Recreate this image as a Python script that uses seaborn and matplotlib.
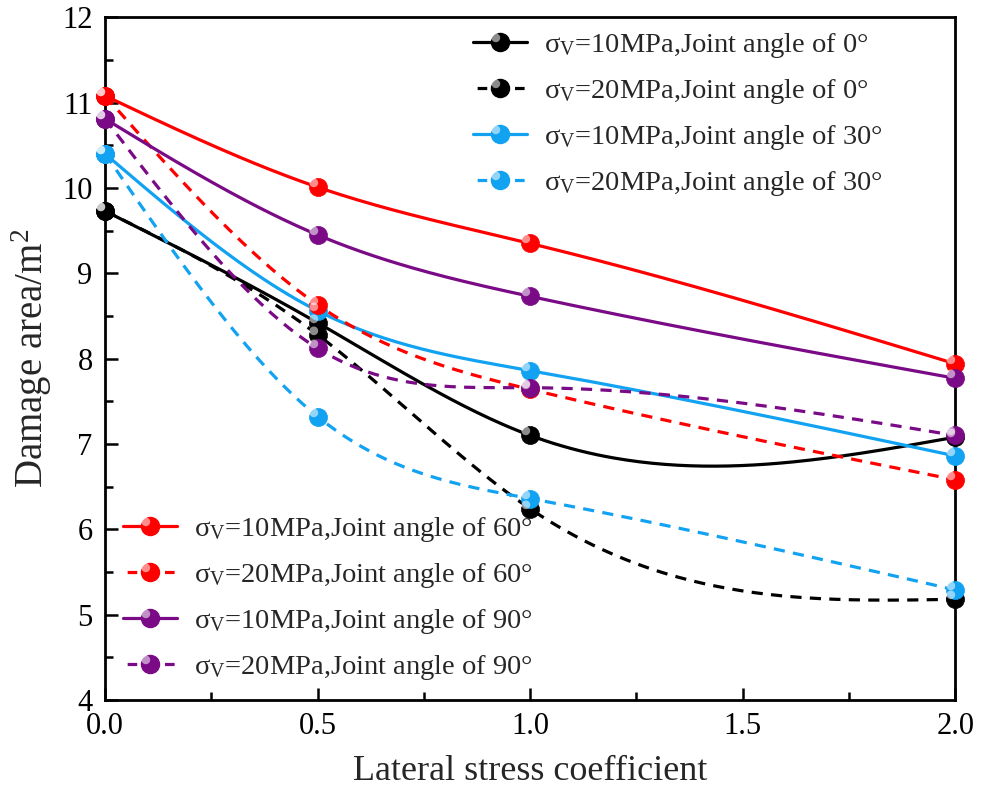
import numpy as np
import pandas as pd
import matplotlib
matplotlib.use("Agg")
import matplotlib.pyplot as plt
from matplotlib.lines import Line2D
from matplotlib.path import Path
from matplotlib.markers import MarkerStyle
from matplotlib.ticker import MultipleLocator
from matplotlib.legend_handler import HandlerTuple
import seaborn as sns

# =====================================================================
# DATA
# =====================================================================
lateral_coef = [0.0, 0.5, 1.0, 2.0]

area_10_0 = [9.73, 8.42, 7.10, 7.08]
area_20_0 = [9.73, 8.28, 6.24, 5.18]
area_10_30 = [10.40, 8.56, 7.86, 6.86]
area_20_30 = [10.40, 7.32, 6.36, 5.29]
area_10_60 = [11.08, 10.01, 9.35, 7.94]
area_20_60 = [11.08, 8.63, 7.64, 6.58]
area_10_90 = [10.81, 9.45, 8.73, 7.77]
area_20_90 = [10.81, 8.12, 7.66, 7.10]

labels = [
    "σ$_{\\mathrm{V}}$=10MPa,Joint angle of 0°",
    "σ$_{\\mathrm{V}}$=20MPa,Joint angle of 0°",
    "σ$_{\\mathrm{V}}$=10MPa,Joint angle of 30°",
    "σ$_{\\mathrm{V}}$=20MPa,Joint angle of 30°",
    "σ$_{\\mathrm{V}}$=10MPa,Joint angle of 60°",
    "σ$_{\\mathrm{V}}$=20MPa,Joint angle of 60°",
    "σ$_{\\mathrm{V}}$=10MPa,Joint angle of 90°",
    "σ$_{\\mathrm{V}}$=20MPa,Joint angle of 90°",
]
series = [area_10_0, area_20_0, area_10_30, area_20_30,
          area_10_60, area_20_60, area_10_90, area_20_90]

BLACK = "#000000"
BLUE = "#12A2F2"
RED = "#FF0000"
PURPLE = "#7A0A86"
colors = [BLACK, BLACK, BLUE, BLUE, RED, RED, PURPLE, PURPLE]
solid = [True, False, True, False, True, False, True, False]


def natural_spline(x, y, n=200):
    """plain natural cubic spline, used only to draw the smooth connecting line"""
    x = np.asarray(x, float)
    y = np.asarray(y, float)
    k = len(x)
    h = np.diff(x)
    A = np.zeros((k, k))
    b = np.zeros(k)
    A[0, 0] = A[-1, -1] = 1
    for i in range(1, k - 1):
        A[i, i - 1] = h[i - 1]
        A[i, i] = 2 * (h[i - 1] + h[i])
        A[i, i + 1] = h[i]
        b[i] = 6 * ((y[i + 1] - y[i]) / h[i] - (y[i] - y[i - 1]) / h[i - 1])
    M = np.linalg.solve(A, b)
    xs = np.linspace(x[0], x[-1], n)
    j = np.clip(np.searchsorted(x, xs) - 1, 0, k - 2)
    hj = h[j]
    a = x[j + 1] - xs
    c = xs - x[j]
    ys = (M[j] * a**3 + M[j + 1] * c**3) / (6 * hj) \
        + (y[j] / hj - M[j] * hj / 6) * a + (y[j + 1] / hj - M[j + 1] * hj / 6) * c
    return xs, ys


# highlight marker: small circle shifted to the upper left of the ball
t = np.linspace(0, 2 * np.pi, 40)
hl_verts = np.column_stack([-0.32 + 0.30 * np.cos(t), 0.32 + 0.30 * np.sin(t)])
hl_verts = np.vstack([hl_verts, [[0.62, -0.62]]])
hl_codes = [Path.MOVETO] + [Path.LINETO] * 38 + [Path.CLOSEPOLY] + [Path.MOVETO]
HIGHLIGHT = MarkerStyle(Path(hl_verts, hl_codes))

# =====================================================================
# PLOT
# =====================================================================
sns.set_theme(style="ticks")
plt.rcParams["font.family"] = ["Liberation Serif", "DejaVu Serif"]
plt.rcParams["mathtext.fontset"] = "custom"
plt.rcParams["mathtext.rm"] = "Liberation Serif"
plt.rcParams["mathtext.it"] = "Liberation Serif:italic"

fig = plt.figure(figsize=(9.92, 7.90), dpi=100)
ax = fig.add_axes([0.106, 0.114, 0.857, 0.864])

LW = 2.3
MS = 13
DASH = (3.5, 2.6)

for vals, col, sol in zip(series, colors, solid):
    xs, ys = natural_spline(lateral_coef, vals)
    curve = pd.DataFrame({"x": xs, "y": ys})
    sns.lineplot(data=curve, x="x", y="y", ax=ax, color=col, lw=LW,
                 linestyle="-" if sol else (0, DASH), zorder=2)

for vals, col in zip(series, colors):
    pts = pd.DataFrame({"x": lateral_coef, "y": vals})
    sns.scatterplot(data=pts, x="x", y="y", ax=ax, color=col, s=MS**2,
                    edgecolor=col, linewidth=0.5, zorder=3, clip_on=False)
    ax.plot(lateral_coef, vals, ls="none", marker=HIGHLIGHT, ms=MS,
            mfc="white", mec="none", alpha=0.55, zorder=4, clip_on=False)

ax.set_xlim(0, 2)
ax.set_ylim(4, 12)
ax.xaxis.set_major_locator(MultipleLocator(0.5))
ax.xaxis.set_minor_locator(MultipleLocator(0.25))
ax.yaxis.set_major_locator(MultipleLocator(1))
ax.yaxis.set_minor_locator(MultipleLocator(0.5))
ax.tick_params(which="both", direction="in", width=1.8, colors="black",
               labelsize=22, top=False, right=False)
ax.tick_params(which="major", length=9, pad=9)
ax.tick_params(which="minor", length=6)
for sp in ax.spines.values():
    sp.set_linewidth(2.0)
    sp.set_color("black")
ax.set_xlabel("Lateral stress coefficient", fontsize=26, labelpad=10)
ax.set_ylabel("Damage area/m$^2$", fontsize=28, labelpad=6)

# legend dash: "- o -" (short dash each side of the ball)
LEG_DASH = (10.4, (3.0, 8.7))


def handle(col, sol):
    base = Line2D([], [], color=col, lw=LW, linestyle="-" if sol else LEG_DASH,
                  marker="o", ms=MS, mfc=col, mec=col)
    hl = Line2D([], [], ls="none", marker=HIGHLIGHT, ms=MS, mfc="white",
                mec="none", alpha=0.55)
    return (base, hl)


hmap = {tuple: HandlerTuple(ndivide=1, pad=0)}

h_all = [handle(c, s) for c, s in zip(colors, solid)]
leg_kw = dict(frameon=False, fontsize=20.5, handlelength=1.9, handletextpad=0.6,
              labelspacing=0.6, borderpad=0, borderaxespad=0, handler_map=hmap,
              loc="upper left", bbox_transform=fig.transFigure)
leg1 = ax.legend(h_all[:4], labels[:4], bbox_to_anchor=(0.477, 0.961), **leg_kw)
ax.add_artist(leg1)
ax.legend(h_all[4:], labels[4:], bbox_to_anchor=(0.124, 0.348), **leg_kw)

plt.savefig("out.png", dpi=100)
